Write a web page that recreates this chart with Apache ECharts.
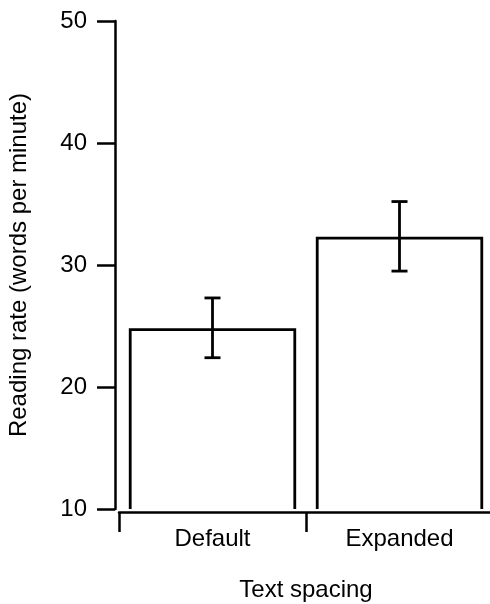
<!DOCTYPE html>
<html style="height: 100%">
   <head>
       <meta charset="utf-8">
   </head>
   <body style="height: 100%; margin: 0; background: #fff">
       <div id="container" style="width: 490px; height: 604px"></div>
       <script type="text/javascript" src="https://cdn.jsdelivr.net/npm/echarts@6/dist/echarts.min.js"></script>
       <script type="text/javascript">
// data
var categories = ['Default', 'Expanded'];
var means = [24.7, 32.2];
var errLow = [22.4, 29.5];
var errHigh = [27.3, 35.2];
var yTicks = [10, 20, 30, 40, 50];

var dom = document.getElementById("container");
var myChart = echarts.init(dom);
var FONT = '"Liberation Sans", Arial, sans-serif';

var barData = means.map(function (v, i) { return [i, v]; });
var errData = means.map(function (v, i) { return [i, errLow[i], errHigh[i]]; });

option = {
    backgroundColor: '#fff',
    animation: false,
    grid: { left: 119, width: 374, top: 21, bottom: 95, outerBoundsMode: 'none' },
    xAxis: {
        type: 'category',
        data: categories,
        offset: 3,
        name: 'Text spacing',
        nameLocation: 'middle',
        nameGap: 66,
        nameTextStyle: { color: '#000', fontSize: 24, fontFamily: FONT },
        axisLine: { lineStyle: { color: '#000', width: 2.5 } },
        axisTick: { show: true, length: 20, lineStyle: { color: '#000', width: 2.5 } },
        axisLabel: { color: '#000', fontSize: 24, fontFamily: FONT, margin: 15 },
        splitLine: { show: false }
    },
    yAxis: {
        type: 'value',
        min: yTicks[0],
        max: yTicks[yTicks.length - 1],
        interval: 10,
        offset: 4,
        name: 'Reading rate (words per minute)',
        nameLocation: 'middle',
        nameGap: 84,
        nameTextStyle: { color: '#000', fontSize: 24, fontFamily: FONT },
        axisLine: { show: true, lineStyle: { color: '#000', width: 2.5 } },
        axisTick: { show: true, length: 18, lineStyle: { color: '#000', width: 2.5 } },
        axisLabel: { color: '#000', fontSize: 24, fontFamily: FONT, margin: 28 },
        splitLine: { show: false }
    },
    series: [
        {
            // open-bottomed bars
            type: 'custom',
            data: barData,
            renderItem: function (params, api) {
                var top = api.coord([api.value(0), api.value(1)]);
                var base = api.coord([api.value(0), yTicks[0]]);
                var w = api.size([1, 0])[0] * 0.88;
                return {
                    type: 'polyline',
                    shape: { points: [
                        [top[0] - w / 2, base[1]],
                        [top[0] - w / 2, top[1]],
                        [top[0] + w / 2, top[1]],
                        [top[0] + w / 2, base[1]]
                    ] },
                    style: { stroke: '#000', lineWidth: 2.8, fill: null }
                };
            }
        },
        {
            type: 'custom',
            data: errData,
            z: 3,
            renderItem: function (params, api) {
                var lo = api.coord([api.value(0), api.value(1)]);
                var hi = api.coord([api.value(0), api.value(2)]);
                var c = 8;
                return {
                    type: 'group',
                    children: [
                        { type: 'line', shape: { x1: lo[0], y1: lo[1], x2: hi[0], y2: hi[1] },
                          style: { stroke: '#000', lineWidth: 2.8 } },
                        { type: 'line', shape: { x1: lo[0] - c, y1: lo[1], x2: lo[0] + c, y2: lo[1] },
                          style: { stroke: '#000', lineWidth: 2.8 } },
                        { type: 'line', shape: { x1: hi[0] - c, y1: hi[1], x2: hi[0] + c, y2: hi[1] },
                          style: { stroke: '#000', lineWidth: 2.8 } }
                    ]
                };
            }
        }
    ]
};

if (option && typeof option === "object") {
    myChart.setOption(option, true);
}
</script>
   </body>
</html>
